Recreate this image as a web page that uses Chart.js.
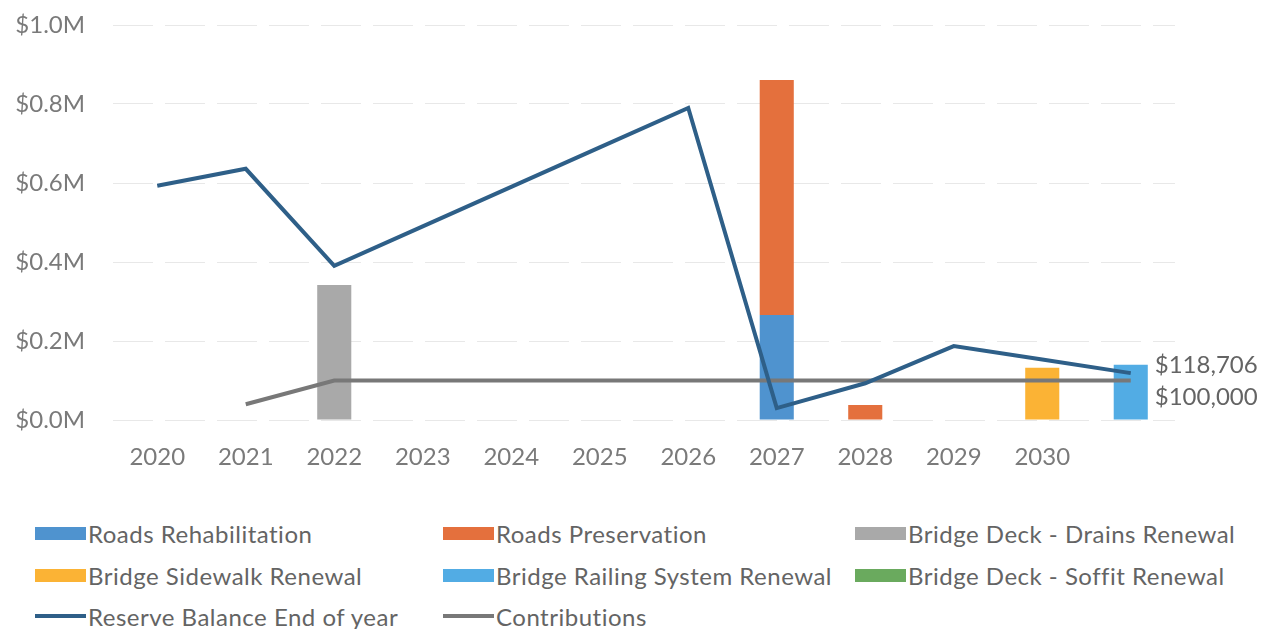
<!DOCTYPE html>
<html>
<head>
<meta charset="utf-8">
<script src="https://cdn.jsdelivr.net/npm/chart.js@4"></script>
<style>
  body { margin: 0; background: #fff; font-family: Lato, sans-serif; }
  #wrap { position: relative; width: 1273px; height: 629px; }
  #chart { position: absolute; left: 0; top: 0; }
  .item { position: absolute; height: 26px; display: flex; align-items: center; font-size: 24px; letter-spacing: 0.5px; color: #646464; white-space: nowrap; }
  .sw { display: inline-block; width: 51px; margin-right: 2px; }
</style>
</head>
<body>
<div id="wrap">
  <canvas id="chart" width="1273" height="480"></canvas>
  <div id="legend"></div>
</div>
<script>
// Reserve fund: capital spending by program and year-end balance
const years = ['2020', '2021', '2022', '2023', '2024', '2025', '2026', '2027', '2028', '2029', '2030', ''];

const roadsRehab       = [null, null, null, null, null, null, null, 266000, null, null, null, null];
const roadsPreservation = [null, null, null, null, null, null, null, 595000, 38000, null, null, null];
const drainsRenewal    = [null, null, 342000, null, null, null, null, null, null, null, null, null];
const sidewalkRenewal  = [null, null, null, null, null, null, null, null, null, null, 132000, null];
const railingRenewal   = [null, null, null, null, null, null, null, null, null, null, null, 140000];
const soffitRenewal    = [null, null, null, null, null, null, null, null, null, null, null, null];

const reserveBalance = [593000, 636000, 390000, 490000, 590000, 690000, 790000, 30000, 93000, 187000, 153000, 118706];
const contributions  = [null, 40000, 100000, 100000, 100000, 100000, 100000, 100000, 100000, 100000, 100000, 100000];

const yTicks = [0, 200000, 400000, 600000, 800000, 1000000];

const colors = {
  rehab: '#4f93cf',
  preservation: '#e4703d',
  drains: '#a9a9a9',
  sidewalk: '#fbb335',
  railing: '#52ace4',
  soffit: '#6aaa5e',
  reserve: '#2e5f88',
  contrib: '#787878'
};

function money(v) {
  return '$' + Math.round(v).toLocaleString('en-US');
}

// end-of-series value labels for the two lines
const endLabels = {
  id: 'endLabels',
  afterDatasetsDraw(chart) {
    const { ctx, scales } = chart;
    const last = years.length - 1;
    const x = scales.x.getPixelForValue(last) + 24;
    ctx.save();
    ctx.font = '24px Lato';
    ctx.fillStyle = '#646464';
    ctx.textBaseline = 'middle';
    ctx.fillText(money(reserveBalance[last]), x, scales.y.getPixelForValue(reserveBalance[last]) - 8);
    ctx.fillText(money(contributions[last]), x, scales.y.getPixelForValue(contributions[last]) + 17);
    ctx.restore();
  }
};

function bar(label, data, color) {
  return { type: 'bar', label, data, backgroundColor: color, order: 2, stack: 'spend',
           barPercentage: 0.385, categoryPercentage: 1 };
}

const datasets = [
  bar('Roads Rehabilitation', roadsRehab, colors.rehab),
  bar('Roads Preservation', roadsPreservation, colors.preservation),
  bar('Bridge Deck - Drains Renewal', drainsRenewal, colors.drains),
  bar('Bridge Sidewalk Renewal', sidewalkRenewal, colors.sidewalk),
  bar('Bridge Railing System Renewal', railingRenewal, colors.railing),
  bar('Bridge Deck - Soffit Renewal', soffitRenewal, colors.soffit),
  { type: 'line', label: 'Reserve Balance End of year', data: reserveBalance, borderColor: colors.reserve,
    borderWidth: 4, pointRadius: 0, order: 0, stack: 'reserve', tension: 0 },
  { type: 'line', label: 'Contributions', data: contributions, borderColor: colors.contrib,
    borderWidth: 4, pointRadius: 0, order: 1, stack: 'contrib', tension: 0 }
];

new Chart(document.getElementById('chart'), {
  type: 'bar',
  data: { labels: years, datasets },
  options: {
    responsive: false,
    animation: false,
    layout: { padding: { top: 25, right: 98, bottom: 0, left: 0 } },
    plugins: { legend: { display: false }, tooltip: { enabled: false } },
    scales: {
      x: {
        stacked: true,
        grid: { display: false },
        border: { display: false },
        ticks: { color: '#7a7a7a', font: { family: 'Lato', size: 24 }, padding: 15 },
        afterFit(s) { s.height = 60; }
      },
      y: {
        stacked: true,
        min: 0,
        max: 1000000,
        afterBuildTicks(s) { s.ticks = yTicks.map(v => ({ value: v })); },
        afterFit(s) {
          s.width = 113;
          s.paddingTop = 0;
          s.paddingBottom = 0;
        },
        border: { display: false, dash: [40, 12] },
        grid: { color: '#e8e8e8', lineWidth: 1, drawTicks: false },
        ticks: {
          color: '#7a7a7a',
          font: { family: 'Lato', size: 24 },
          padding: 28,
          callback: v => '$' + (v / 1000000).toFixed(1) + 'M'
        }
      }
    }
  },
  plugins: [endLabels]
});

// three-column legend under the chart
const legendItems = [
  { label: 'Roads Rehabilitation', color: colors.rehab, kind: 'box', col: 0, row: 0 },
  { label: 'Roads Preservation', color: colors.preservation, kind: 'box', col: 1, row: 0 },
  { label: 'Bridge Deck - Drains Renewal', color: colors.drains, kind: 'box', col: 2, row: 0 },
  { label: 'Bridge Sidewalk Renewal', color: colors.sidewalk, kind: 'box', col: 0, row: 1 },
  { label: 'Bridge Railing System Renewal', color: colors.railing, kind: 'box', col: 1, row: 1 },
  { label: 'Bridge Deck - Soffit Renewal', color: colors.soffit, kind: 'box', col: 2, row: 1 },
  { label: 'Reserve Balance End of year', color: colors.reserve, kind: 'line', col: 0, row: 2 },
  { label: 'Contributions', color: colors.contrib, kind: 'line', col: 1, row: 2 }
];
const colX = [35, 443, 855];
const rowY = [533, 575, 616];
const legend = document.getElementById('legend');
legendItems.forEach(it => {
  const div = document.createElement('div');
  div.className = 'item';
  div.style.left = colX[it.col] + 'px';
  div.style.top = (rowY[it.row] - 13) + 'px';
  const sw = document.createElement('span');
  sw.className = 'sw';
  sw.style.background = it.color;
  sw.style.height = it.kind === 'box' ? '13px' : '4px';
  div.appendChild(sw);
  div.appendChild(document.createTextNode(it.label));
  legend.appendChild(div);
});
</script>
</body>
</html>
